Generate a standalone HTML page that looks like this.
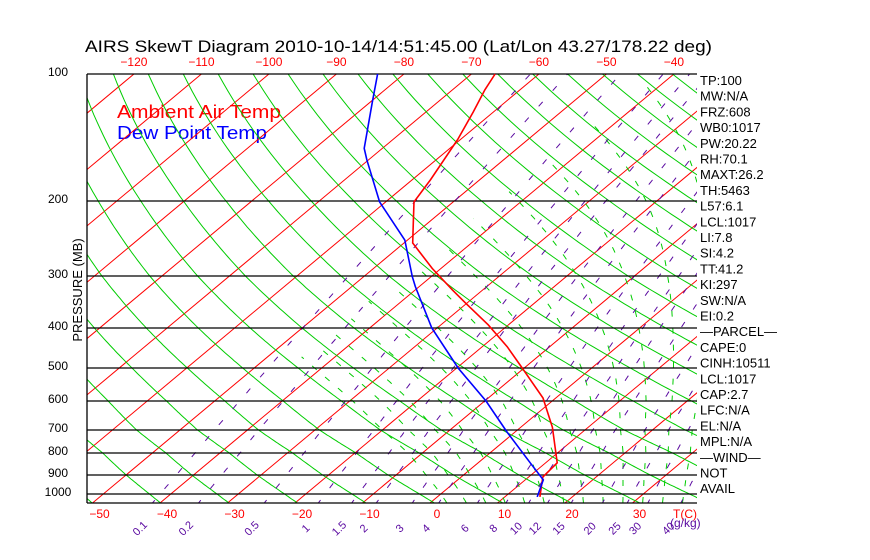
<!DOCTYPE html>
<html><head><meta charset="utf-8"><style>
html,body{margin:0;padding:0;background:#fff;}
svg{display:block;font-family:"Liberation Sans",sans-serif;}
</style></head><body>
<svg id="chart" width="870" height="560" viewBox="0 0 870 560" xmlns="http://www.w3.org/2000/svg">
<rect width="870" height="560" fill="#fff"/>
<text x="85" y="52" font-size="17" fill="#000" textLength="627" lengthAdjust="spacingAndGlyphs">AIRS SkewT Diagram 2010-10-14/14:51:45.00 (Lat/Lon 43.27/178.22 deg)</text>
<text x="117" y="118" font-size="18" fill="#f00" textLength="164" lengthAdjust="spacingAndGlyphs">Ambient Air Temp</text>
<text x="117" y="139" font-size="18" fill="#00f" textLength="150" lengthAdjust="spacingAndGlyphs">Dew Point Temp</text>
<text transform="translate(82,290) rotate(-90)" text-anchor="middle" font-size="13" fill="#000">PRESSURE (MB)</text>
<g id="grid"></g><g id="series"></g><g id="labels"></g>
</svg>
<script>
const pressureLevels=[100,200,300,400,500,600,700,800,900,1000];
const topTempTicks=[-120,-110,-100,-90,-80,-70,-60,-50,-40];
const bottomTempTicks=[-50,-40,-30,-20,-10,0,10,20,30];
const mixRatios=[0.1,0.2,0.5,1,1.5,2,3,4,6,8,10,12,15,20,25,30,40];
const tempP=[100,109,123,143,178,201,225,251,288,324,348,393,444,500,590,690,843,910,1016];
const tempT=[-66.5,-65.2,-63,-60.4,-57.3,-55.8,-52.2,-48.7,-41.3,-34.5,-30.3,-23,-16.3,-10.3,-1.9,4.7,11.7,12.1,15.2];
const dewP=[100,117,150,160,201,247,301,318,400,500,600,708,843,925,1016];
const dewT=[-83.9,-79.6,-72.7,-70.2,-60.9,-50.4,-42.8,-40.6,-30.8,-19.8,-9.8,-1.2,7.7,12.7,14.8];
const infoLines=["TP:100","MW:N/A","FRZ:608","WB0:1017","PW:20.22","RH:70.1","MAXT:26.2","TH:5463","L57:6.1","LCL:1017","LI:7.8","SI:4.2","TT:41.2","KI:297","SW:N/A","EI:0.2","\u2014PARCEL\u2014","CAPE:0","CINH:10511","LCL:1017","CAP:2.7","LFC:N/A","EL:N/A","MPL:N/A","\u2014WIND\u2014"," NOT","AVAIL"];

const NS="http://www.w3.org/2000/svg";
const PY=[100,200,300,400,500,600,700,800,900,1000,1050];
const YY=[74,201,276,328,368,401,430,453,475,494,503];
const X0=87,X1=697,Y0=74,Y1=503;
function yOf(p){
  if(p<=PY[0]){return YY[0]-(Math.log(PY[0]/p))*183;}
  for(let i=0;i<PY.length-1;i++){
    if(p<=PY[i+1]){const f=Math.log(p/PY[i])/Math.log(PY[i+1]/PY[i]);return YY[i]+f*(YY[i+1]-YY[i]);}
  }
  return YY[YY.length-1]+Math.log(p/1050)*190;
}
function xOf(t,y){return 430+6.75*t+(503-y)*1.198;}
function mk(tag,attrs,parent){const e=document.createElementNS(NS,tag);for(const k in attrs)e.setAttribute(k,attrs[k]);parent.appendChild(e);return e;}
const grid=document.getElementById('grid'),series=document.getElementById('series'),labels=document.getElementById('labels');
const defs=mk('defs',{},grid);
const cp=mk('clipPath',{id:'plotclip'},defs);mk('rect',{x:X0,y:Y0,width:X1-X0,height:Y1-Y0},cp);
const clipG=mk('g',{'clip-path':'url(#plotclip)'},grid);
function pathFrom(pts){return pts.map((q,i)=>(i?'L':'M')+q[0].toFixed(1)+' '+q[1].toFixed(1)).join(' ');}
const pGrid=[];for(let p=1060;p>=95;p-=5)pGrid.push(p);

for(let t=-150;t<=50;t+=10){
  const l=mk('line',{x1:xOf(t,Y1),y1:Y1,x2:xOf(t,Y0),y2:Y0,stroke:'#f00','stroke-width':1},clipG);
  
  
}
for(let th=180;th<=560;th+=10){
  const pts=pGrid.map(p=>{const T=th*Math.pow(p/1000,0.286)-273.15;const y=yOf(p);return [xOf(T,y),y];});
  const e=mk('path',{d:pathFrom(pts),fill:'none',stroke:'#0c0','stroke-width':1},clipG);
  
  
}
function es(t){return 6.112*Math.exp(17.67*t/(t+243.5));}
function moistLapse(T,p){const Tk=T+273.15;const e=es(T);const rs=0.622*e/(p-e);const Lv=2.5e6,Rd=287,cp=1005,eps=0.622;
  const num=Rd*Tk+Lv*rs;const den=cp+Lv*Lv*rs*eps/(Rd*Tk*Tk);return (num/den)/p;}
for(let t0=0;t0<=44;t0+=3){
  let tt=t0,pp=1000;while(pp<1050){tt+=moistLapse(tt,pp)*5;pp+=5;}
  let T=tt;const pts=[];
  for(let p=1050;p>=100;p-=5){if(T<-45)break;const y=yOf(p);pts.push([xOf(T,y),y]);T-=moistLapse(T,p)*5;}
  const e=mk('path',{d:pathFrom(pts),fill:'none',stroke:'#0c0','stroke-width':1,'stroke-dasharray':'6 11'},clipG);
  
  
}
for(const w of mixRatios){
  const pts=pGrid.map(p=>{const e=w*p/(622+w);const L=Math.log(e/6.112);const T=243.5*L/(17.67-L);const y=yOf(p);return [xOf(T,y),y];});
  const e=mk('path',{d:pathFrom(pts),fill:'none',stroke:'#5a0aa0','stroke-width':1,'stroke-dasharray':'6 15'},clipG);
  
  
}
for(const p of pressureLevels){
  const y=yOf(p);
  const l=mk('line',{x1:X0,y1:y,x2:X1,y2:y,stroke:'#000','stroke-width':1.3},grid);
  
  
  const t=mk('text',{x:58,y:y+2,'text-anchor':'middle','font-size':12,fill:'#000'},labels);t.textContent=p;
  
  
}
mk('line',{x1:X0,y1:Y1,x2:X1,y2:Y1,stroke:'#000','stroke-width':1.3},grid);
mk('line',{x1:X0,y1:Y0,x2:X0,y2:Y1,stroke:'#000','stroke-width':1.3},grid);
for(const t of topTempTicks){
  const e=mk('text',{x:xOf(t,Y0),y:66,'text-anchor':'middle','font-size':12,fill:'#f00'},labels);e.textContent=t===0?'0':(t<0?'\u2212'+(-t):t);
  
  
}
for(const t of bottomTempTicks){
  const e=mk('text',{x:xOf(t,Y1)+7,y:518,'text-anchor':'middle','font-size':12,fill:'#f00'},labels);e.textContent=t<0?'\u2212'+(-t):t;
  
  
}
const tc=mk('text',{x:673,y:518,'font-size':12,fill:'#f00'},labels);tc.textContent='T(C)';


for(const w of mixRatios){
  const e0=w*1050/(622+w);const L=Math.log(e0/6.112);const T=243.5*L/(17.67-L);const x=xOf(T,Y1)-10;
  const e=mk('text',{transform:`translate(${x.toFixed(1)},531) rotate(-45)`,'text-anchor':'middle','font-size':11,fill:'#5a0aa0'},labels);e.textContent=w;
  
  
}
const gk=mk('text',{x:670,y:527,'font-size':12,fill:'#5a0aa0'},labels);gk.textContent='(g/kg)';


function prof(P,T,color,name){
  const pts=P.map((p,i)=>{const y=yOf(p);return [xOf(T[i],y),y];});
  const e=mk('path',{d:pathFrom(pts),fill:'none',stroke:color,'stroke-width':1.6},series);
  
  
}
prof(tempP,tempT,'#f00','temperature-profile');
prof(dewP,dewT,'#00f','dewpoint-profile');
infoLines.forEach((s,i)=>{
  const e=mk('text',{x:700,y:85+i*15.7,'font-size':13,fill:'#000'},labels);e.textContent=s;
  
  
});
</script>
</body></html>
